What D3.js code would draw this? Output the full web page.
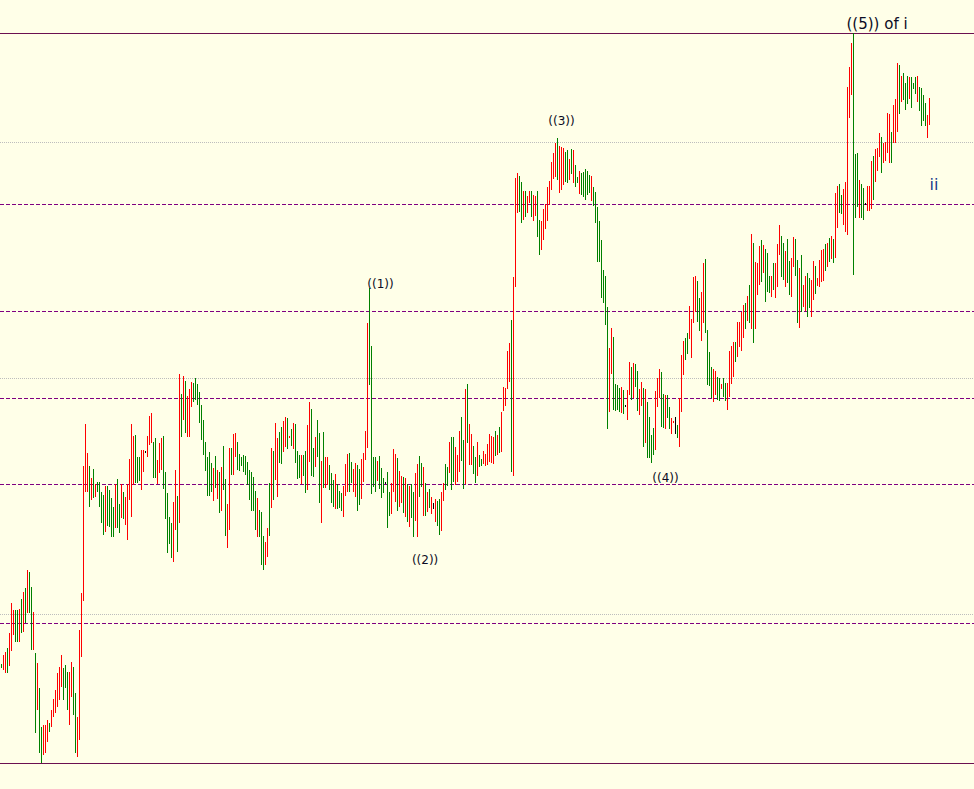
<!DOCTYPE html>
<html><head><meta charset="utf-8">
<script src="https://cdn.jsdelivr.net/npm/d3@7"></script>
<style>html,body{margin:0;padding:0;background:#ffffe8;overflow:hidden}svg{display:block}</style>
</head><body>
<script>
// price bars (points), one per period, oldest first
const highs = [
136,145,148,152,167,197,190,190,190,191,
201,208,212,230,228,213,188,147,137,112,
73,75,75,80,77,90,101,110,127,133,
145,132,135,128,128,138,133,107,83,170,
207,334,376,347,334,322,331,316,318,318,
308,305,314,314,310,302,293,316,321,296,
316,308,303,316,341,376,364,365,343,343,
350,350,349,364,384,387,358,362,340,357,
362,364,328,307,283,277,298,330,304,426,
406,424,419,404,411,418,417,422,416,408,
395,380,358,343,348,337,332,344,330,328,
333,354,321,296,352,352,366,367,358,346,
343,345,344,338,330,328,323,309,302,290,
288,264,258,272,317,352,349,377,362,368,
373,379,383,382,364,371,377,376,349,345,
345,345,349,375,398,391,352,363,380,367,
339,368,343,343,335,327,320,326,316,309,
307,314,336,346,347,338,331,337,335,331,
341,347,369,477,512,454,343,343,339,344,
332,322,318,328,308,317,351,346,342,329,
324,323,322,316,314,316,308,327,336,344,
337,333,317,308,311,303,297,301,299,301,
308,317,336,333,358,363,363,353,345,369,
383,360,411,416,376,366,354,343,358,345,
341,349,346,356,366,364,363,369,365,373,
388,413,412,449,457,480,523,622,627,624,
618,609,609,604,609,609,605,604,609,580,
579,591,596,613,619,638,647,657,662,654,
653,652,648,650,641,651,650,635,623,629,
627,628,631,629,625,624,613,608,593,579,
560,530,524,493,452,472,463,416,415,412,
413,410,395,410,438,433,437,436,429,411,
418,412,411,398,383,365,372,409,422,431,
428,406,405,405,393,382,379,383,375,402,
445,459,462,467,494,481,523,524,519,502,
508,537,541,470,448,433,431,429,423,422,
416,422,417,417,449,454,458,458,478,478,
488,495,497,504,515,566,557,538,537,554,
560,555,551,547,524,524,537,537,556,575,
564,557,549,561,539,542,563,561,540,532,
545,515,524,527,522,520,539,534,522,540,
550,551,556,557,562,564,561,607,614,616,
605,611,618,713,733,757,767,646,647,620,
616,612,597,614,614,639,644,651,652,667,
663,657,658,687,686,668,695,701,737,735,
724,727,717,724,723,723,717,723,724,713,
712,705,697,685,702
];
const lows = [
132,130,127,127,134,149,165,158,158,158,
167,168,177,187,187,150,150,67,90,47,
37,45,47,58,68,73,83,87,93,100,
113,100,112,90,75,103,85,47,43,60,
143,199,308,308,293,300,302,303,308,293,
277,265,268,274,273,263,263,272,272,267,
282,281,275,260,300,283,315,317,317,319,
310,328,347,343,355,357,322,322,316,327,
330,311,281,247,256,242,238,270,248,277,
363,380,367,363,363,393,398,400,395,377,
360,345,329,304,304,308,299,312,301,287,
289,310,264,252,270,325,325,343,330,329,
334,328,325,315,300,289,289,270,263,263,
235,230,235,243,264,292,300,320,303,337,
336,348,353,351,362,354,351,337,321,322,
316,324,307,310,338,324,323,333,343,297,
277,312,312,315,310,297,293,291,291,292,
289,283,304,308,308,317,308,303,289,295,
301,318,340,352,415,306,313,308,319,311,
302,307,316,272,284,286,308,298,289,293,
297,287,283,278,273,282,263,279,263,303,
313,284,284,288,292,286,291,278,274,265,
269,299,310,314,327,310,318,315,318,328,
339,311,316,357,335,335,326,317,324,333,
334,336,334,335,338,337,336,344,345,347,
348,389,394,411,418,328,324,513,587,588,
577,580,583,587,597,583,579,584,563,545,
550,560,571,579,595,610,621,623,620,607,
610,615,618,617,620,626,617,613,617,606,
605,603,600,605,607,599,594,577,538,538,
502,497,475,371,388,426,390,389,390,388,
387,386,393,380,405,400,402,413,389,385,
394,353,357,342,342,337,345,350,393,402,
373,372,371,382,371,366,377,366,362,353,
388,425,440,446,461,442,477,488,478,469,
459,477,467,415,414,402,398,405,400,399,
411,403,399,390,403,416,423,438,443,453,
449,462,471,479,477,471,457,471,505,515,
518,527,498,508,507,503,510,502,513,545,
523,520,513,517,505,503,533,524,477,472,
488,493,489,483,492,483,500,506,514,513,
518,519,529,533,538,541,537,542,572,587,
586,575,568,565,682,705,525,582,593,582,
582,580,595,589,589,591,600,618,629,643,
627,637,639,647,637,637,657,657,668,686,
698,700,690,696,701,692,711,706,698,689,
674,679,674,662,675
];
// u = up bar, d = down bar, n = unchanged
const dirs =
"duuduuuddu"+"dududdudud"+"duuuduuuuu"+"uddduudduu"+"uuuudududd"+
"dduddddudd"+"uduuuuuddd"+"uunuuudduu"+"uddddduudu"+"duduuudddd"+
"ddddddudud"+"udduuduudd"+"ddddddddud"+"dduududuud"+"duudududdd"+
"udduuddudd"+"uduudddudd"+"duuudduudd"+"uuuuddddud"+"ddndduuudu"+
"udududduud"+"dududunudd"+"uuddudduuu"+"dduduuddud"+"duuuuuudud"+
"uuuuuduuud"+"duduuduudd"+"uuuuuuuudu"+"uuddududdu"+"dddddudddd"+
"dddduudddd"+"udnuududdu"+"ududdddu uu".replace(" ","")+"ddudduunduu".slice(0,10)+"uudduuuudd"+
"uudddduudd"+"udduuuuduu"+"uudududuuu"+"duddduduuu"+"ddudduuddu"+
"duudduuduu"+"uudududuud"+"duuuuudddu"+"ddnuuuduuu"+"duuuuduuud"+
"udddudddud"+"ddduu";

const solidLevels  = [767, 37];
const dottedLevels = [658, 422, 186];
const dashedLevels = [596, 489, 402, 316, 177];

const waveLabels = [
  {text:"((1))",      i:189.5, v:512, size:12, anchor:"middle", fill:"#0c0c24"},
  {text:"((2))",      i:211.8, v:236, size:12, anchor:"middle", fill:"#0c0c24"},
  {text:"((3))",      i:280,   v:675, size:12, anchor:"middle", fill:"#0c0c24"},
  {text:"((4))",      i:332,   v:318, size:12, anchor:"middle", fill:"#0c0c24"},
  {text:"((5)) of i", i:422.5, v:771, size:15, anchor:"start",  fill:"#0c0c24"},
  {text:"ii",         i:464,   v:610, size:16, anchor:"start",  fill:"#1a3a8c"}
];

const W = 974, H = 789;
const colors = {u:"#ff0000", d:"#008000", n:"#000000"};

const x = d3.scaleLinear().domain([0, highs.length - 1]).range([1.5, 1.5 + 2 * (highs.length - 1)]);
const y = d3.scaleLinear().domain([37, 767]).range([763, 33]);

const svg = d3.select("body").append("svg").attr("width", W).attr("height", H);
svg.append("rect").attr("width", W).attr("height", H).attr("fill", "#ffffe8");

const gl = svg.append("g").attr("shape-rendering", "crispEdges");
gl.selectAll(".dot").data(dottedLevels).join("line")
  .attr("x1", 0).attr("x2", W)
  .attr("y1", d => Math.round(y(d)) + 0.5).attr("y2", d => Math.round(y(d)) + 0.5)
  .attr("stroke", "#bdbdbd").attr("stroke-width", 1).attr("stroke-dasharray", "1,1");
gl.selectAll(".dash").data(dashedLevels).join("line")
  .attr("x1", 0).attr("x2", W)
  .attr("y1", d => Math.round(y(d)) + 0.5).attr("y2", d => Math.round(y(d)) + 0.5)
  .attr("stroke", "#800080").attr("stroke-width", 1).attr("stroke-dasharray", "4,2");
gl.selectAll(".solid").data(solidLevels).join("line")
  .attr("x1", 0).attr("x2", W)
  .attr("y1", d => Math.round(y(d)) + 0.5).attr("y2", d => Math.round(y(d)) + 0.5)
  .attr("stroke", "#6b1050").attr("stroke-width", 1);

const bars = highs.map((h, i) => ({i, h, l: lows[i], dir: dirs[i] || "n"}));
svg.append("g").attr("shape-rendering", "crispEdges")
  .selectAll("line").data(bars).join("line")
  .attr("x1", d => x(d.i)).attr("x2", d => x(d.i))
  .attr("y1", d => y(d.h)).attr("y2", d => Math.max(y(d.l), y(d.h) + 1))
  .attr("stroke", d => colors[d.dir]).attr("stroke-width", 1);

svg.append("g").selectAll("text").data(waveLabels).join("text")
  .attr("x", d => x(d.i)).attr("y", d => y(d.v))
  .attr("text-anchor", d => d.anchor)
  .attr("font-family", "DejaVu Sans, Verdana, sans-serif")
  .attr("font-size", d => d.size)
  .attr("fill", d => d.fill)
  .text(d => d.text);
</script>
</body></html>
